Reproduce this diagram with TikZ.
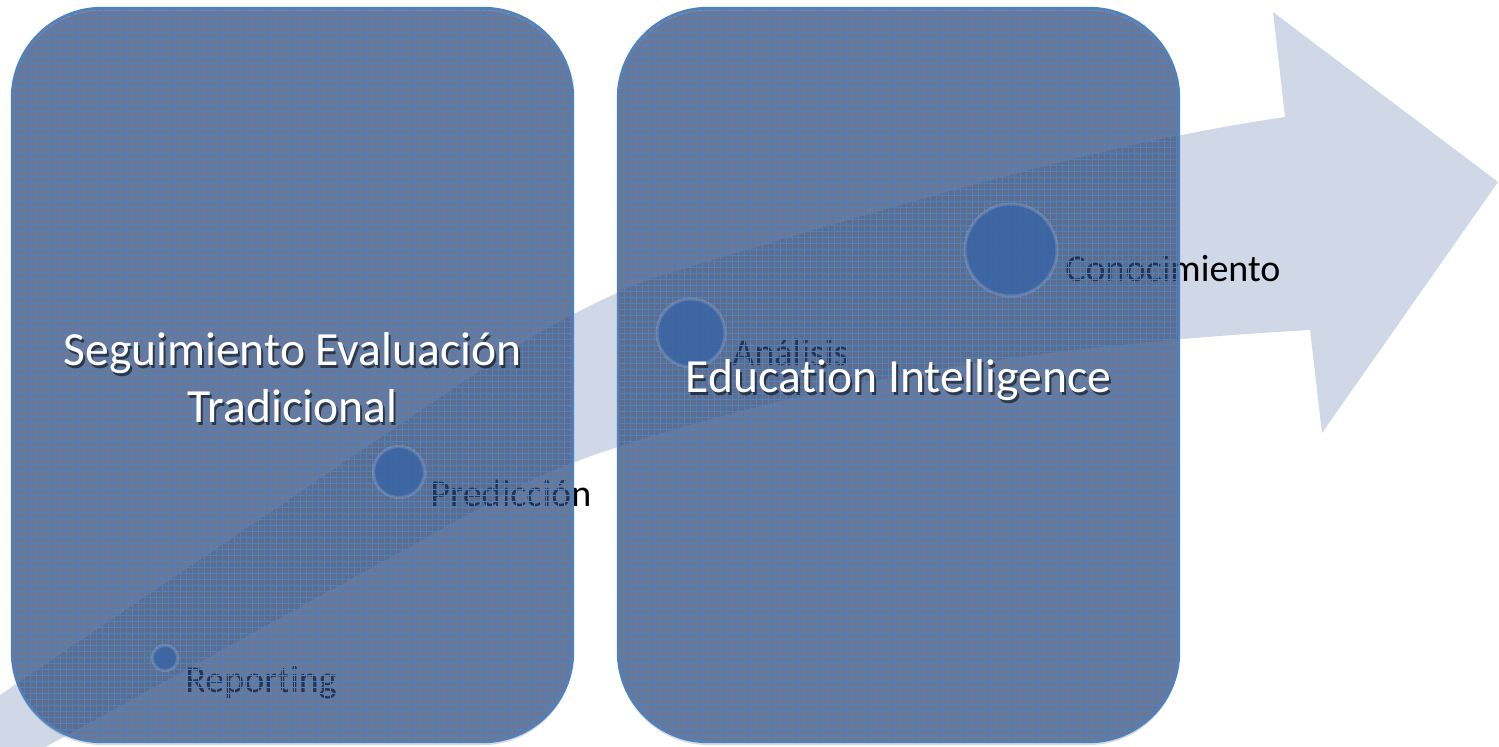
\documentclass[tikz,border=0pt]{standalone}
\usepackage{fontspec}
\setmainfont{Carlito}[Ligatures={NoCommon}]
\usetikzlibrary{patterns}
\usetikzlibrary{shadows}

\definecolor{arrowfill}{RGB}{208,216,232}
\definecolor{panelblue}{RGB}{40,60,108}
\definecolor{panelline}{RGB}{79,129,189}
\definecolor{dotblue}{RGB}{58,100,165}

\begin{document}
\begin{tikzpicture}[x=.5pt, y=-.5pt,
  panel/.style={draw=panelline, line width=1.2pt, rounded corners=45pt, fill=panelblue, fill opacity=.62,
    minimum width=280.5pt, minimum height=367pt, inner sep=0pt,
    drop shadow={shadow xshift=0pt, shadow yshift=-1.5pt, opacity=.3},
    postaction={pattern=grid, pattern color=panelline}},
  heading/.style={text=white, font=\fontsize{23.8}{28.5}\selectfont, align=center, inner sep=0pt},
  stage/.style={circle, fill=dotblue, fill opacity=.85, draw=white, draw opacity=.15, line width=1.5pt, inner sep=0pt},
  stagetext/.style={anchor=base west, font=\fontsize{19}{23}\selectfont, inner sep=0pt}]
\useasboundingbox (0,0) rectangle (1499,747);
\clip (0,0) rectangle (1499,747);

% big rising arrow
\fill[arrowfill] (-40,722) -- (500,357) .. controls (540,330) and (620,288) .. (660,276)
  .. controls (900,204) and (1100,144) .. (1285,117) -- (1273,12) -- (1498,182) -- (1322,433) -- (1310,330)
  .. controls (1100,342) and (900,366) .. (700,422)
  .. controls (640,439) and (560,464) .. (520,486) -- (-40,794) -- cycle;

% stage labels (under the panels)
\foreach \lx/\ly/\name/\txt in {185/693/reporting/Reporting, 430/507/prediccion/Predicción,
  732/366/analisis/Análisis, 1065/282/conocimiento/Conocimiento}
  \node[stagetext] (\name) at (\lx,\ly) {\txt};

% panels
\node[panel] (trad) at (292.5,375) {};
\node[panel] (edu) at (898.5,375) {};

% stage dots
\foreach \px/\py/\d/\name in {165/658/12.7/reporting, 399/472/25.5/prediccion,
  691/333/34/analisis, 1011/250/46/conocimiento}
  \node[stage, minimum size=\d pt] (\name dot) at (\px,\py) {};

% panel headings with shadow
\node[heading, text=black, text opacity=.55] (trad shadow) at ([shift={(2,6)}]trad) {Seguimiento Evaluación\\Tradicional};
\node[heading] (trad title) at ([shift={(0,3)}]trad) {Seguimiento Evaluación\\Tradicional};
\node[heading, text=black, text opacity=.55] (edu shadow) at ([shift={(2,8)}]edu) {Education Intelligence};
\node[heading] (edu title) at ([shift={(0,5)}]edu) {Education Intelligence};
\end{tikzpicture}
\end{document}
